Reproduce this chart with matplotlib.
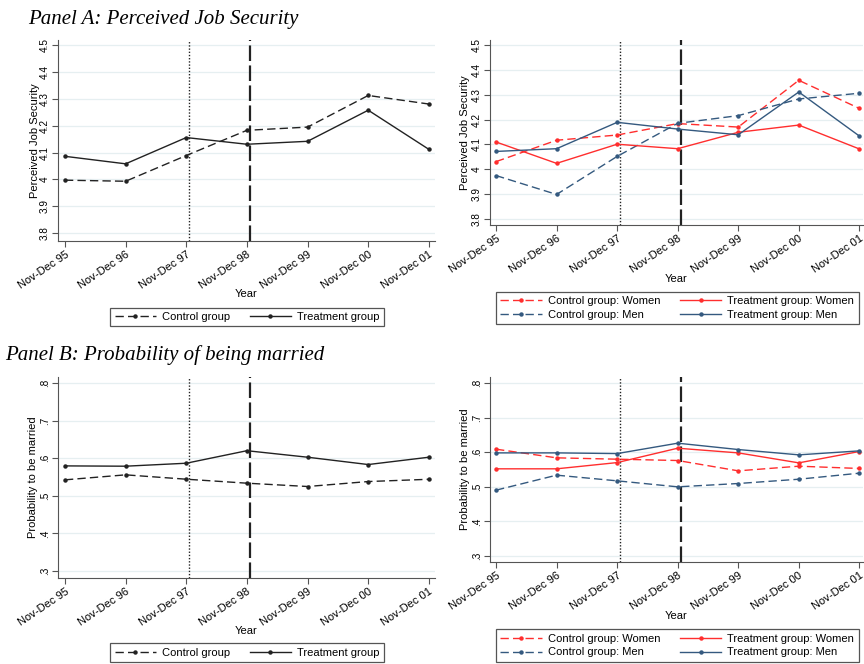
import matplotlib
matplotlib.use("Agg")
import matplotlib.pyplot as plt

# Data
years = ["Nov-Dec 95", "Nov-Dec 96", "Nov-Dec 97", "Nov-Dec 98",
         "Nov-Dec 99", "Nov-Dec 00", "Nov-Dec 01"]

# Panel A: perceived job security
jobsec_control = [3.997, 3.993, 4.089, 4.183, 4.195, 4.313, 4.281]
jobsec_treat = [4.086, 4.058, 4.156, 4.131, 4.142, 4.258, 4.112]
jobsec_control_women = [4.031, 4.117, 4.138, 4.184, 4.170, 4.358, 4.245]
jobsec_treat_women = [4.110, 4.024, 4.101, 4.083, 4.149, 4.178, 4.082]
jobsec_control_men = [3.975, 3.899, 4.052, 4.185, 4.216, 4.283, 4.306]
jobsec_treat_men = [4.072, 4.083, 4.189, 4.162, 4.139, 4.311, 4.134]
jobsec_ticks = [3.8, 3.9, 4.0, 4.1, 4.2, 4.3, 4.4, 4.5]
jobsec_ticklabels = ["3.8", "3.9", "4", "4.1", "4.2", "4.3", "4.4", "4.5"]

# Panel B: probability of being married
married_control = [0.5425, 0.5558, 0.5442, 0.5336, 0.5248, 0.538, 0.544]
married_treat = [0.5796, 0.5788, 0.5867, 0.620, 0.6027, 0.5832, 0.6027]
married_control_women = [0.6087, 0.5837, 0.5798, 0.576, 0.5462, 0.5596, 0.553]
married_treat_women = [0.552, 0.552, 0.570, 0.6115, 0.598, 0.5692, 0.602]
married_control_men = [0.4904, 0.5337, 0.5173, 0.500, 0.5096, 0.522, 0.5394]
married_treat_men = [0.598, 0.598, 0.596, 0.626, 0.6077, 0.5923, 0.6038]
married_ticks = [0.3, 0.4, 0.5, 0.6, 0.7, 0.8]
married_ticklabels = [".3", ".4", ".5", ".6", ".7", ".8"]

plt.rcParams["font.family"] = ["Liberation Sans", "DejaVu Sans"]

RED = "#ff2e2e"
BLUE = "#34597f"
GRID = "#e6eff1"
DASH = (0, (6, 3))
FS = 8

fig = plt.figure(figsize=(8.64, 6.64), dpi=100)

ax_a1 = fig.add_axes([0.0671, 0.6370, 0.4363, 0.3028])
ax_a2 = fig.add_axes([0.5671, 0.6611, 0.4317, 0.2786])
ax_b1 = fig.add_axes([0.0671, 0.1295, 0.4363, 0.3027])
ax_b2 = fig.add_axes([0.5671, 0.1536, 0.4317, 0.2786])

x = list(range(len(years)))


def style_axis(ax, ticks, ticklabels, ylim, xlim, ylabel, year_y, ylab_x):
    ax.set_ylim(*ylim)
    ax.set_xlim(*xlim)
    ax.set_yticks(ticks)
    ax.set_yticklabels(ticklabels, rotation=90, va="center", fontsize=7.2)
    ax.set_xticks(x)
    ax.set_xticklabels(years, rotation=34, ha="right", rotation_mode="anchor",
                       fontsize=8)
    ax.set_ylabel(ylabel, fontsize=FS)
    ax.yaxis.set_label_coords(ylab_x, 0.5)
    ax.yaxis.label.set_va("center")
    ax.set_xlabel("Year", fontsize=FS)
    ax.xaxis.set_label_coords(0.5, year_y)
    ax.xaxis.label.set_va("center")
    for t in ticks:
        ax.axhline(t, color=GRID, lw=0.9, zorder=0)
    for s in ["top", "right"]:
        ax.spines[s].set_visible(False)
    for s in ["left", "bottom"]:
        ax.spines[s].set_color("#555555")
        ax.spines[s].set_linewidth(0.8)
    ax.tick_params(axis="both", length=4, width=0.8, color="#555555", pad=2)
    # reform markers
    ax.axvline(2.05, color="#222222", lw=1.0, ls=(0, (1, 1.3)), zorder=1)
    ax.axvline(3.05, color="#222222", lw=1.6, ls=(0, (7, 2)), zorder=1)


def legend(ax, pos):
    leg = ax.legend(loc="center", bbox_to_anchor=pos,
                    bbox_transform=fig.transFigure, ncol=2, fontsize=FS,
                    frameon=True, fancybox=False, framealpha=1,
                    handlelength=3.7, columnspacing=1.8, borderpad=0.4,
                    labelspacing=0.35, handletextpad=0.55)
    leg.get_frame().set_edgecolor("#555555")
    leg.get_frame().set_linewidth(0.9)


mk = dict(marker="o", markersize=2.2, lw=1.0)

# Panel A, pooled
ax_a1.plot(x, jobsec_control, color="#222222", ls=DASH, label="Control group", **mk)
ax_a1.plot(x, jobsec_treat, color="#222222", ls="-", label="Treatment group", **mk)
style_axis(ax_a1, jobsec_ticks, jobsec_ticklabels, (3.77, 4.52), (-0.115, 6.1),
           "Perceived Job Security", -0.264, -0.061)
legend(ax_a1, (0.286, 0.5226))

# Panel A, by gender
ax_a2.plot(x, jobsec_control_women, color=RED, ls=DASH, label="Control group: Women", **mk)
ax_a2.plot(x, jobsec_control_men, color=BLUE, ls=DASH, label="Control group: Men", **mk)
ax_a2.plot(x, jobsec_treat_women, color=RED, ls="-", label="Treatment group: Women", **mk)
ax_a2.plot(x, jobsec_treat_men, color=BLUE, ls="-", label="Treatment group: Men", **mk)
style_axis(ax_a2, jobsec_ticks, jobsec_ticklabels, (3.776, 4.52), (-0.1, 6.06),
           "Perceived Job Security", -0.292, -0.067)
legend(ax_a2, (0.784, 0.536))

# Panel B, pooled
ax_b1.plot(x, married_control, color="#222222", ls=DASH, label="Control group", **mk)
ax_b1.plot(x, married_treat, color="#222222", ls="-", label="Treatment group", **mk)
style_axis(ax_b1, married_ticks, married_ticklabels, (0.2814, 0.816), (-0.115, 6.1),
           "Probability to be married", -0.264, -0.066)
legend(ax_b1, (0.286, 0.0173))

# Panel B, by gender
ax_b2.plot(x, married_control_women, color=RED, ls=DASH, label="Control group: Women", **mk)
ax_b2.plot(x, married_control_men, color=BLUE, ls=DASH, label="Control group: Men", **mk)
ax_b2.plot(x, married_treat_women, color=RED, ls="-", label="Treatment group: Women", **mk)
ax_b2.plot(x, married_treat_men, color=BLUE, ls="-", label="Treatment group: Men", **mk)
style_axis(ax_b2, married_ticks, married_ticklabels, (0.283, 0.817), (-0.1, 6.06),
           "Probability to be married", -0.292, -0.067)
legend(ax_b2, (0.784, 0.0279))

# Panel titles
fig.text(0.032, 1 - 24 / 664, "Panel A: Perceived Job Security",
         family="Liberation Serif", style="italic", fontsize=15)
fig.text(0.006, 1 - 360 / 664, "Panel B: Probability of being married",
         family="Liberation Serif", style="italic", fontsize=15)

fig.savefig("out.png", dpi=100)
